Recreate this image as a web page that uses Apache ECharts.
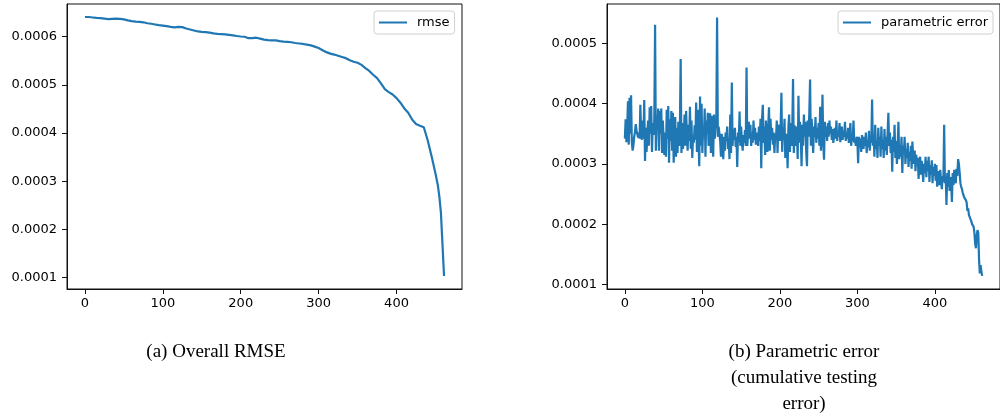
<!DOCTYPE html>
<html><head><meta charset="utf-8">
<script src="https://cdn.jsdelivr.net/npm/echarts@6/dist/echarts.min.js"></script>
<style>html,body{margin:0;padding:0;background:#fff}#c{width:1000px;height:417px}</style>
</head><body><div id="c"></div>
<script>
// ---- data (values in units of 1e-6) ----
const rmseIter = [0,5,10,15,20,25,30,35,40,45,50,55,60,65,70,75,80,85,90,95,100,105,110,115,120,125,130,135,140,145,150,155,160,165,170,175,180,185,190,195,200,205,210,215,220,225,230,235,240,245,250,255,260,265,270,275,280,285,290,295,300,305,310,315,320,325,330,335,340,345,350,355,360,365,370,375,380,385,390,395,400,405,410,415,420,425,430,435,440,445,450,453,455,457,461];
const rmseMicro = [641,641,640,639,638.5,637.5,636.5,637,637.5,637,
636,634,632.5,631.5,631,630,628,627,625.5,624,
623,622,620.5,619.5,620.5,620,617,615,613,611,
610,609.5,608.5,607,606,605.5,605,604,603,601.5,
600.5,600,597,597,598,596,594,593,592.5,592.5,
591,590,589.5,588.5,587,586,585,583.5,582,579.5,
576.5,572,568,565,563,560.5,558,555.5,551,548,
546,541.5,535,529,521,514,503,491,485,480,
472.5,463,451,442,428,419,415,412,385,352,
316,292,268,234,103];
const paramMicro = [
342,374,336,360,404,332,410,350,414,336,
322,330,345,352,366,356,350,344,352,342,
398,350,340,372,342,406,305,360,320,352,
372,330,394,350,396,320,368,348,375,531,
322,378,358,392,322,388,350,392,318,372,
340,315,352,312,390,342,396,302,374,338,
388,322,385,302,350,378,312,360,318,370,
330,360,474,318,368,325,342,382,330,388,
350,322,365,338,395,325,372,310,348,335,
364,340,402,320,390,342,296,412,330,400,
318,362,345,392,312,372,350,385,330,355,
384,318,380,352,312,382,342,360,372,543,
345,362,350,338,312,350,330,308,345,322,
352,338,362,325,342,308,382,318,435,330,
358,340,360,328,345,295,352,336,387,330,
362,338,322,348,335,356,330,460,330,350,
370,342,365,330,352,335,372,340,360,332,
352,342,330,362,338,375,293,375,398,335,
362,315,372,345,320,362,394,322,375,340,
360,332,352,318,350,340,372,318,365,355,
338,362,418,320,360,340,375,310,350,335,
293,360,382,320,368,330,356,441,318,364,
330,362,350,308,413,335,370,345,296,365,
330,382,345,370,320,296,372,345,385,440,
330,375,350,318,362,345,378,335,360,342,
368,330,395,322,352,415,335,307,370,345,
362,338,368,345,372,350,362,340,358,335,
348,360,342,372,338,355,345,368,336,352,
362,340,355,345,370,338,352,342,360,335,
348,368,330,345,338,372,335,340,330,345,
338,301,345,328,342,320,348,335,325,345,
330,352,318,340,328,355,322,345,335,407,
330,348,312,365,325,338,310,360,330,345,
312,362,325,340,310,358,322,345,315,350,
385,330,352,318,340,287,345,320,365,310,
338,300,332,370,308,330,312,345,285,330,
318,345,300,325,310,335,295,320,305,330,
292,337,312,300,322,288,315,298,310,275,
300,312,282,305,292,270,300,285,312,278,
305,288,312,270,298,282,306,268,295,280,
300,272,298,262,288,275,265,290,272,258,
280,270,365,268,280,232,285,262,290,255,
278,270,237,285,265,290,275,268,292,280,
308,300,285,268,262,258,252,250,244,242,
240,236,222,226,215,212,214,205,200,197,
196,186,168,160,180,190,186,142,118,132,
122,114];
const xTickVals = [0,100,200,300,400];
const yTickValsA = [0.0001,0.0002,0.0003,0.0004,0.0005,0.0006];
const yTickValsB = [0.0001,0.0002,0.0003,0.0004,0.0005];
const seriesNames = ['rmse','parametric error'];
const captionA = ['(a) Overall RMSE'];
const captionB = ['(b) Parametric error','(cumulative testing','error)'];

const rmseData = rmseIter.map((x,i)=>[x, rmseMicro[i]/1e6]);
const paramData = paramMicro.map((v,i)=>[i, v/1e6]);

const FONT = 'DejaVu Sans';
const AX = '#111';
const BLUE = '#1f77b4';
function xAxis(gi){
  return {type:'value', gridIndex:gi, min:-23.05, max:484.05,
    axisLine:{show:true, onZero:false, lineStyle:{color:AX,width:1}},
    axisTick:{show:true, length:5, customValues:xTickVals, lineStyle:{color:AX,width:1}},
    axisLabel:{customValues:xTickVals, margin:8, color:'#000', fontFamily:FONT, fontSize:13},
    splitLine:{show:false}};
}
function yAxis(gi,min,max,ticks){
  return {type:'value', gridIndex:gi, min:min, max:max,
    axisLine:{show:true, onZero:false, lineStyle:{color:AX,width:1}},
    axisTick:{show:true, length:5, customValues:ticks, lineStyle:{color:AX,width:1}},
    axisLabel:{customValues:ticks, margin:10, color:'#000', fontFamily:FONT, fontSize:13,
      formatter:v=>v.toFixed(4)},
    splitLine:{show:false}};
}
function legend(name,left){
  return {data:[{name:name, icon:'rect'}], left:left, top:11, orient:'horizontal',
    itemWidth:28, itemHeight:2, padding:[5,5,5,5],
    itemStyle:{color:BLUE},
    borderColor:'#d0d0d0', borderWidth:1, borderRadius:3, backgroundColor:'#fff',
    textStyle:{fontFamily:FONT, fontSize:13, color:'#000', padding:[0,0,0,5], lineHeight:13}};
}
const capFont = '19px "Liberation Serif"';
const graphics = [];
captionA.forEach((t,i)=>graphics.push({type:'text', x:216, y:352+i*26,
  style:{text:t, font:capFont, fill:'#000', textAlign:'center', textVerticalAlign:'middle'}}));
captionB.forEach((t,i)=>graphics.push({type:'text', x:804, y:352+i*26,
  style:{text:t, font:capFont, fill:'#000', textAlign:'center', textVerticalAlign:'middle'}}));

const chart = echarts.init(document.getElementById('c'), null, {renderer:'canvas'});
chart.setOption({
  animation:false,
  backgroundColor:'#fff',
  grid:[
    {left:67, top:4, width:395, height:285, show:true, borderColor:AX, borderWidth:1, containLabel:false},
    {left:607, top:4, width:395, height:285, show:true, borderColor:AX, borderWidth:1, containLabel:false}
  ],
  xAxis:[xAxis(0), xAxis(1)],
  yAxis:[yAxis(0,0.0000761,0.000668,yTickValsA), yAxis(1,0.0000923,0.0005655,yTickValsB)],
  legend:[legend(seriesNames[0],374), legend(seriesNames[1],838)],
  series:[
    {name:seriesNames[0], type:'line', xAxisIndex:0, yAxisIndex:0, data:rmseData,
      symbol:'none', lineStyle:{color:BLUE, width:2.2}, itemStyle:{color:BLUE}},
    {name:seriesNames[1], type:'line', xAxisIndex:1, yAxisIndex:1, data:paramData,
      symbol:'none', lineStyle:{color:BLUE, width:2.2}, itemStyle:{color:BLUE}}
  ],
  graphic:graphics
});
</script>
</body></html>
